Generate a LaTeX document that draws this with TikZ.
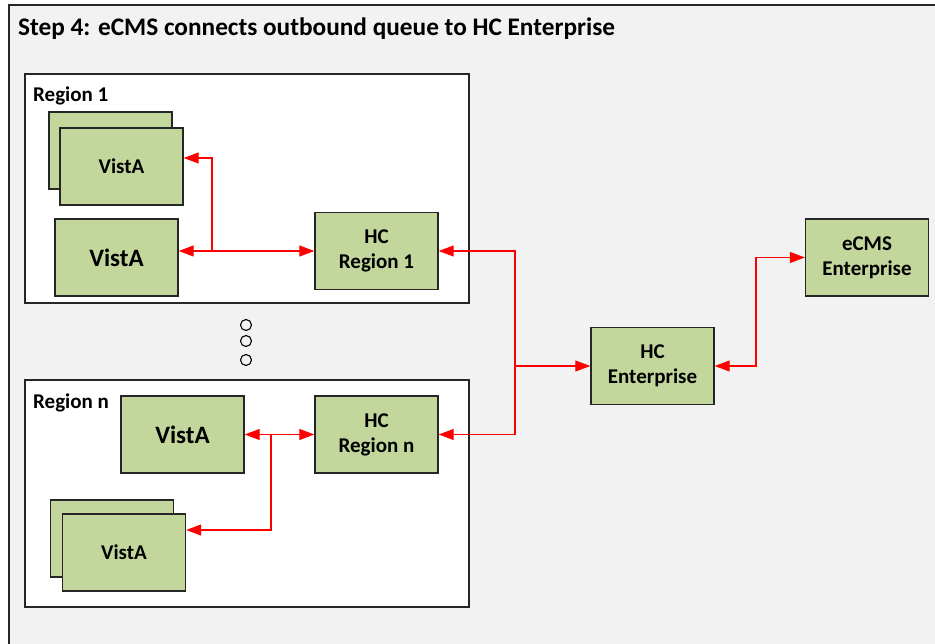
\documentclass[tikz,border=0pt]{standalone}
\usepackage{fontspec}
\setmainfont{Carlito}
\usetikzlibrary{arrows.meta}
\definecolor{boxgreen}{HTML}{C3D69B}
\definecolor{pagegray}{HTML}{F2F2F2}

\begin{document}
\begin{tikzpicture}[x=1pt, y=-1pt,
	box/.style={draw=black!85, line width=1.4pt, fill=boxgreen, minimum width=123pt, minimum height=77pt, align=center, font=\bfseries\fontsize{21}{25}\selectfont},
	bigbox/.style={box, font=\bfseries\fontsize{25}{30}\selectfont},
	region/.style={draw=black!85, line width=1.4pt, fill=white},
	label/.style={anchor=base west, font=\bfseries\fontsize{21}{25}\selectfont},
	oneway/.style={red, line width=1.1pt, -{Triangle[length=15pt, width=11pt]}},
	twoway/.style={red, line width=1.1pt, {Triangle[length=15pt, width=11pt]}-{Triangle[length=15pt, width=11pt]}}]
	\useasboundingbox (0,0) rectangle (935,644);
	\fill[white] (0,0) rectangle (935,644);
	\begin{scope}
		\clip (0,0) rectangle (935,644);
		\draw[draw=black!85, line width=1.4pt, fill=pagegray] (9,5) rectangle (945,660);
	\end{scope}
	\node[anchor=base west, inner sep=0pt, font=\bfseries\fontsize{25.3}{30}\selectfont] (title) at (18,36) {Step 4: eCMS connects outbound queue to HC Enterprise};

	% regions
	\draw[region] (25,74) rectangle (469,303);
	\node[label, inner sep=0pt] (reg1) at (33,102) {Region 1};
	\draw[region] (25,380) rectangle (469,607);
	\node[label, inner sep=0pt] (regn) at (33,409) {Region n};

	% boxes
	\node[box] (vista1back) at (110.5,150.5) {};
	\node[box] (vista1) at (121.5,166.5) {VistA};
	\node[bigbox] (vista1big) at (116.5,257.5) {VistA};
	\node[box] (hcr1) at (376.5,251) {HC\\Region 1};
	\node[box] (hcent) at (652.5,366) {HC\\Enterprise};
	\node[box] (ecms) at (867,257.5) {eCMS\\Enterprise};
	\node[bigbox] (vistanbig) at (182.5,434.5) {VistA};
	\node[box] (hcrn) at (376.5,434.5) {HC\\Region n};
	\node[box] (vistanback) at (112,538.5) {};
	\node[box] (vistan) at (124,552.5) {VistA};

	% dots
	\foreach \y/\n in {325/a,341/b,360/c}
		\draw[line width=1.1pt] (246,\y) circle (5.5) coordinate (dot\n);

	% connectors
	\coordinate (j1) at (212,251);
	\coordinate (jn) at (271,434.5);
	\coordinate (jr) at (515,366);
	\coordinate (je) at (756,366);
	\draw[twoway] (vista1big.east |- hcr1.west) -- (hcr1.west);
	\draw[oneway] (j1) |- ([yshift=8.5pt]vista1.east);
	\draw[twoway] (vistanbig.east) -- (hcrn.west);
	\draw[oneway] (jn) |- ([yshift=22.5pt]vistan.east);
	\draw[oneway] (jr) |- (hcr1.east);
	\draw[oneway] (jr) |- (hcrn.east);
	\draw[oneway] (jr) -- (hcent.west);
	\draw[twoway] (hcent.east) -- (je) |- (ecms.west);
\end{tikzpicture}
\end{document}
